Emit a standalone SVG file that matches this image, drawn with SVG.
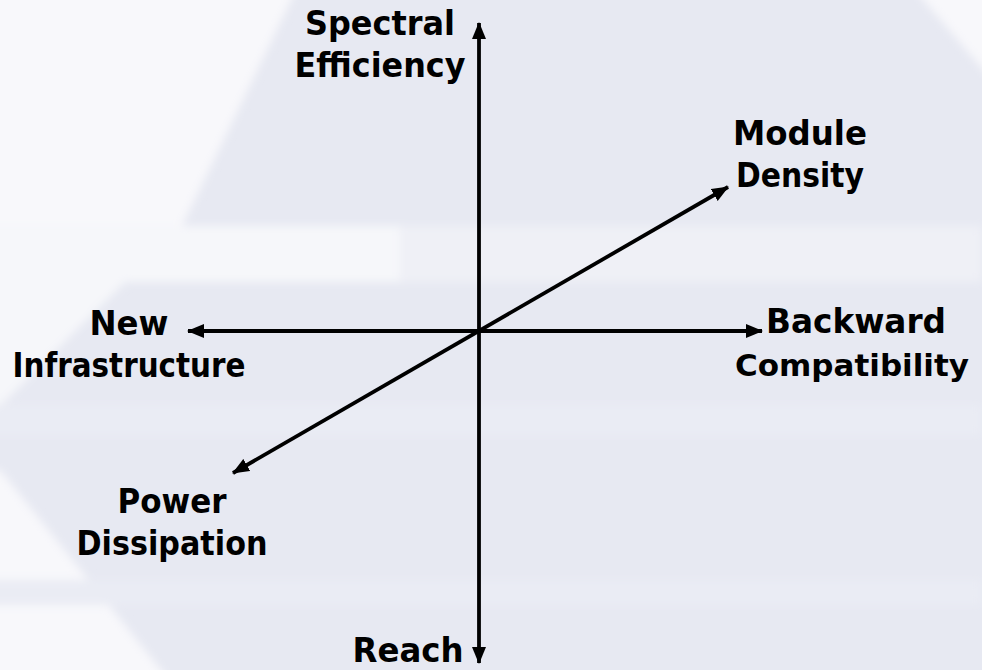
<svg xmlns="http://www.w3.org/2000/svg" width="982" height="670" viewBox="0 0 982 670">
<style>
.lbl{font-family:"DejaVu Sans","Liberation Sans",sans-serif;font-weight:bold;font-size:33px;fill:#000;text-anchor:middle}
.sm{font-size:31px}
.ax{stroke:#000;stroke-width:3.8;fill:none;marker-start:url(#ah);marker-end:url(#ah)}
</style>
<defs>
<marker id="ah" markerUnits="userSpaceOnUse" markerWidth="17" markerHeight="14" refX="16" refY="7" orient="auto-start-reverse" viewBox="0 0 17 14">
<path d="M0,0 L17,7 L0,14 z" fill="#000"/>
</marker>
<filter id="soft" x="-5%" y="-5%" width="110%" height="110%"><feGaussianBlur stdDeviation="4"/></filter>
</defs>
<g id="background">
<rect x="0" y="0" width="982" height="670" fill="#e7e9f2"/>
<g filter="url(#soft)">
<polygon points="-10,-10 296,-10 182,226 -10,226" fill="#f8f8fb"/>
<polygon points="-10,226 982,226 982,282 -10,282" fill="#eff0f6"/>
<polygon points="-10,226 400,226 400,282 -10,282" fill="#f6f7fa"/>
<polygon points="-10,282 125,282 0,406 -10,406" fill="#f6f7fa"/>
<polygon points="915,-10 992,-10 992,80" fill="#f8f8fb"/>
<polygon points="-10,470 0,470 169,680 -10,680" fill="#f8f8fb"/>
<rect x="-10" y="405" width="992" height="30" fill="#eaecf4"/>
<rect x="-10" y="580" width="992" height="25" fill="#eaecf4"/>
</g>
</g>
<g id="connectors">
<line class="ax" x1="479" y1="663" x2="479" y2="23"/>
<line class="ax" x1="188" y1="331" x2="762" y2="331"/>
<line class="ax" x1="233" y1="473" x2="728" y2="187"/>
</g>
<g id="spectral-efficiency">
<text class="lbl" x="380" y="35" textLength="150" lengthAdjust="spacingAndGlyphs">Spectral</text>
<text class="lbl" x="380" y="77" textLength="171" lengthAdjust="spacingAndGlyphs">Efficiency</text>
</g>
<g id="module-density">
<text class="lbl" x="800" y="145" textLength="134" lengthAdjust="spacingAndGlyphs">Module</text>
<text class="lbl" x="800" y="187" textLength="128" lengthAdjust="spacingAndGlyphs">Density</text>
</g>
<g id="new-infrastructure">
<text class="lbl" x="129" y="335" textLength="79" lengthAdjust="spacingAndGlyphs">New</text>
<text class="lbl" x="129" y="377" textLength="233" lengthAdjust="spacingAndGlyphs">Infrastructure</text>
</g>
<g id="backward-compatibility">
<text class="lbl" x="856" y="333" textLength="180" lengthAdjust="spacingAndGlyphs">Backward</text>
<text class="lbl sm" x="852" y="376">Compatibility</text>
</g>
<g id="power-dissipation">
<text class="lbl" x="172" y="513" textLength="109" lengthAdjust="spacingAndGlyphs">Power</text>
<text class="lbl" x="172" y="555" textLength="191" lengthAdjust="spacingAndGlyphs">Dissipation</text>
</g>
<g id="reach">
<text class="lbl" x="408" y="662" textLength="111" lengthAdjust="spacingAndGlyphs">Reach</text>
</g>
</svg>
